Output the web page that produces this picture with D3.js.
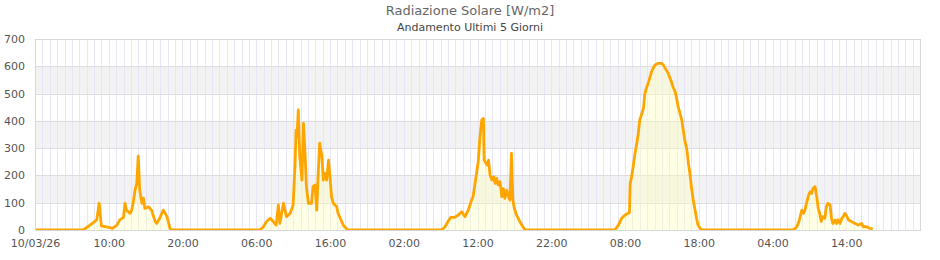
<!DOCTYPE html>
<html>
<head>
<meta charset="utf-8">
<script src="https://cdn.jsdelivr.net/npm/d3@7"></script>
<style>
  body { margin: 0; background: #fff; }
  svg { display: block; font-family: "DejaVu Sans", sans-serif; }
</style>
</head>
<body>
<div id="chart"></div>
<script>
// Dati (W/m2), un array di orari e uno di valori per giorno
const giorni = ["2026-03-10", "2026-03-11", "2026-03-12", "2026-03-13", "2026-03-14"];

const orari1 = ["00:00","06:33","07:28","07:54","08:22","08:42","09:00","09:30","10:00","10:30","11:06","11:30","12:00","12:12","12:24","12:54","13:06","13:18","13:34","13:48","14:00","14:12","14:30","14:42","14:54","15:24","15:48","16:18","16:30","16:54","17:24","17:54","18:18","18:30"];
const valori1 = [0,0,18,27,37,98,15,12,10,6,18,37,46,98,73,61,73,98,146,171,271,146,98,117,79,85,73,31,24,43,73,49,6,0];

const orari2 = ["06:30","06:58","07:24","07:54","08:18","08:42","09:00","09:12","09:27","09:42","09:54","10:06","10:36","11:00","11:15","11:24","11:30","11:36","11:42","11:54","12:12","12:24","12:36","12:48","13:04","13:30","13:42","13:58","14:12","14:24","14:36","14:54","15:06","15:18","15:33","15:48","16:00","16:12","16:27","16:54","17:06","17:24","17:48","18:18","18:24"];
const valori2 = [0,12,31,43,31,18,92,24,61,98,73,49,61,92,232,366,340,380,440,269,183,391,293,159,98,98,159,165,73,208,318,269,183,208,183,256,196,122,98,85,61,43,18,2,0];

const orari3 = ["07:06","07:36","08:00","08:21","08:54","09:24","09:51","10:18","10:45","11:12","11:24","11:40","11:54","12:06","12:18","12:34","12:48","12:54","13:18","13:30","13:42","13:58","14:12","14:24","14:36","14:48","15:03","15:18","15:30","15:42","15:58","16:12","16:24","16:36","16:48","16:57","17:12","17:30","18:00","18:24","18:36"];
const valori3 = [0,12,31,46,46,55,67,49,73,110,122,171,214,250,330,403,409,256,238,256,201,183,195,171,189,165,177,122,152,116,146,122,110,281,110,85,61,43,18,2,0];

const orari4 = ["06:36","07:06","07:33","08:00","08:36","08:42","08:54","09:06","09:22","09:36","09:48","10:00","10:18","10:30","10:42","10:54","11:12","11:24","11:36","11:48","12:04","12:30","12:58","13:12","13:24","13:36","13:52","14:06","14:18","14:30","14:48","15:00","15:12","15:24","15:42","15:54","16:06","16:24","16:36","16:48","17:00","17:15","17:30","17:42","17:54","18:12","18:24"];
const valori4 = [0,18,43,55,64,171,195,232,281,318,354,403,428,446,501,519,543,562,580,592,605,611,611,605,595,586,574,556,543,525,507,482,452,434,403,366,330,293,244,208,159,110,73,43,18,6,0];

const orari5 = ["06:48","07:18","07:39","07:58","08:12","08:24","08:36","08:54","09:06","09:18","09:30","09:46","10:00","10:12","10:24","10:36","10:48","11:06","11:18","11:30","11:48","12:00","12:12","12:30","12:42","12:54","13:09","13:24","13:36","13:48","14:00","14:18","14:42","15:12","15:36","16:06","16:18","16:45","17:12","17:36"];
const valori5 = [0,12,37,73,61,73,98,128,140,134,152,159,122,79,61,31,49,43,85,98,92,43,24,37,24,37,24,43,49,61,55,37,31,24,18,24,12,12,6,5];

const yTicks = [0, 100, 200, 300, 400, 500, 600, 700];
const fasceGrigie = [[100, 200], [300, 400], [500, 600]];
const etichetteX = ["10/03/26","10:00","20:00","06:00","16:00","02:00","12:00","22:00","08:00","18:00","04:00","14:00"];

const titolo = "Radiazione Solare [W/m2]";
const sottotitolo = "Andamento Ultimi 5 Giorni";

// Dimensioni
const W = 940, H = 260;
const margin = { top: 39, right: 20, bottom: 30, left: 35 };

const parse = d3.timeParse("%Y-%m-%d %H:%M");
const orari = [orari1, orari2, orari3, orari4, orari5];
const valori = [valori1, valori2, valori3, valori4, valori5];
const data = [];
giorni.forEach((g, i) => {
    orari[i].forEach((o, j) => data.push({ t: parse(g + " " + o), v: valori[i][j] }));
});

const start = parse("2026-03-10 00:00");
const end = parse("2026-03-15 00:00");

const x = d3.scaleTime().domain([start, end]).range([margin.left, W - margin.right]);
const y = d3.scaleLinear().domain([0, 700]).range([H - margin.bottom, margin.top]);

const svg = d3.select("#chart").append("svg")
    .attr("width", W)
    .attr("height", H);

// Fasce grigie
svg.append("g").selectAll("rect")
    .data(fasceGrigie)
    .enter().append("rect")
    .attr("x", margin.left)
    .attr("width", W - margin.right - margin.left)
    .attr("y", d => y(d[1]))
    .attr("height", d => y(d[0]) - y(d[1]))
    .attr("fill", "#f2f2f2");

// Griglia verticale (ogni ora)
svg.append("g").selectAll("line")
    .data(d3.timeHour.range(start, end))
    .enter().append("line")
    .attr("x1", d => Math.round(x(d)) + 0.5)
    .attr("x2", d => Math.round(x(d)) + 0.5)
    .attr("y1", y(700))
    .attr("y2", y(0))
    .attr("stroke", "#e6e6f8")
    .attr("stroke-width", 1);

// Griglia orizzontale
svg.append("g").selectAll("line")
    .data(yTicks)
    .enter().append("line")
    .attr("x1", margin.left)
    .attr("x2", W - margin.right)
    .attr("y1", d => Math.round(y(d)) + 0.5)
    .attr("y2", d => Math.round(y(d)) + 0.5)
    .attr("stroke", "#dddddd");

// Clip sull'area del grafico
svg.append("clipPath").attr("id", "clip")
    .append("rect")
    .attr("x", margin.left)
    .attr("y", margin.top)
    .attr("width", W - margin.right - margin.left)
    .attr("height", y(0) - margin.top + 0.5);

const area = d3.area()
    .x(d => x(d.t))
    .y0(y(0))
    .y1(d => y(d.v));

const line = d3.line()
    .x(d => x(d.t))
    .y(d => y(d.v));

svg.append("path")
    .datum(data)
    .attr("d", area)
    .attr("fill", "#ffffc0")
    .attr("fill-opacity", 0.4)
    .attr("clip-path", "url(#clip)");

svg.append("path")
    .datum(data)
    .attr("d", line)
    .attr("fill", "none")
    .attr("stroke", "#ffa500")
    .attr("stroke-width", 2.8)
    .attr("stroke-linejoin", "round")
    .attr("clip-path", "url(#clip)");

// Cornice
svg.append("rect")
    .attr("x", margin.left + 0.5)
    .attr("y", margin.top + 0.5)
    .attr("width", W - margin.right - margin.left)
    .attr("height", y(0) - margin.top)
    .attr("fill", "none")
    .attr("stroke", "#d8d8d8");

// Assi
const xTickValues = etichetteX.map((_, i) => d3.timeHour.offset(start, i * 10));
const xAxis = svg.append("g")
    .attr("transform", `translate(0, ${y(0)})`)
    .call(d3.axisBottom(x).tickValues(xTickValues).tickFormat((d, i) => etichetteX[i]).tickSize(0).tickPadding(9));
xAxis.select(".domain").remove();
xAxis.selectAll("text")
    .attr("fill", "#555")
    .style("font-size", "11px")
    .style("font-family", "DejaVu Sans, sans-serif");

const yAxis = svg.append("g")
    .attr("transform", `translate(${margin.left}, 0)`)
    .call(d3.axisLeft(y).tickValues(yTicks).tickSize(0).tickPadding(10));
yAxis.select(".domain").remove();
yAxis.selectAll("text")
    .attr("fill", "#555")
    .style("font-size", "11px")
    .style("font-family", "DejaVu Sans, sans-serif");

// Titoli
svg.append("text")
    .attr("x", W / 2)
    .attr("y", 15)
    .attr("text-anchor", "middle")
    .attr("fill", "#666")
    .style("font-size", "13px")
    .text(titolo);

svg.append("text")
    .attr("x", W / 2)
    .attr("y", 31)
    .attr("text-anchor", "middle")
    .attr("fill", "#444")
    .style("font-size", "11px")
    .text(sottotitolo);
</script>
</body>
</html>
